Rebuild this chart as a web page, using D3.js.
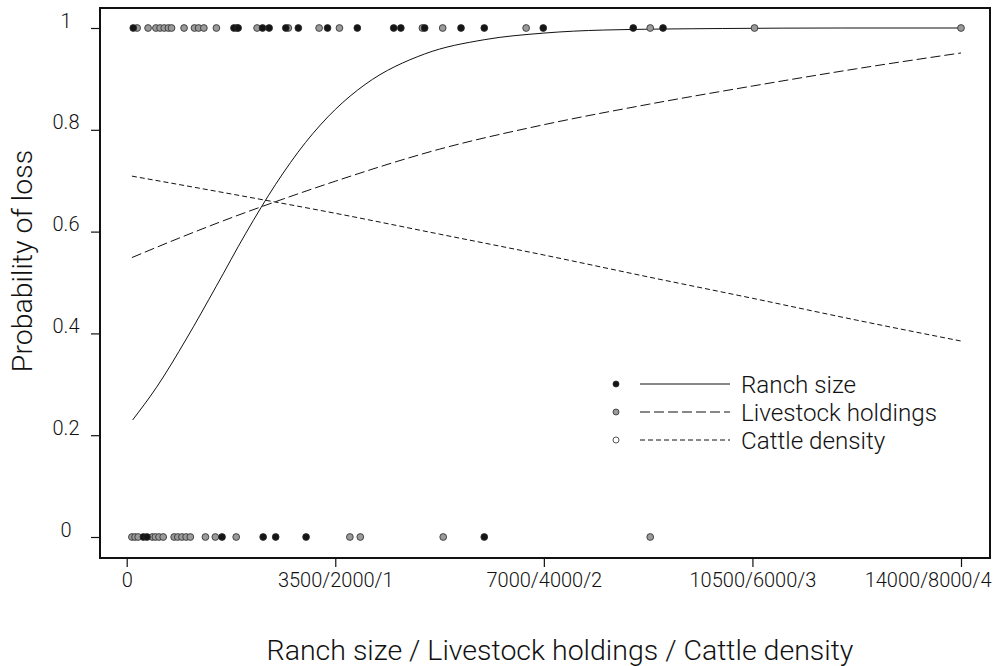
<!DOCTYPE html>
<html>
<head>
<meta charset="utf-8">
<script src="https://cdn.jsdelivr.net/npm/d3@7"></script>
<style>
  html, body { margin: 0; padding: 0; background: #fff; }
  svg { display: block; }
  text { font-family: "Roboto", "Liberation Sans", sans-serif; font-weight: 300; fill: #111; }
</style>
</head>
<body>
<svg id="chart" width="996" height="666"></svg>
<script>
// Observed outcomes (1 = loss, 0 = no loss), in each predictor's own units
const ranchLoss     = [110, 1800, 1870, 2280, 2390, 2670, 2880, 3370, 3870, 4480, 4600, 5000, 5610, 6000, 6990, 8500, 9000];
const ranchNoLoss   = [280, 340, 1600, 2290, 2500, 3010, 6000];
const livestockLoss = [100, 205, 280, 320, 360, 400, 430, 550, 650, 690, 740, 860, 1055, 1250, 1550, 1845, 2040, 2835, 3030, 3830, 5020, 6020, 8000];
const livestockNoLoss = [50, 80, 110, 245, 275, 310, 350, 455, 490, 530, 570, 610, 755, 850, 1050, 2140, 2240, 3035, 5020];

// Fitted probability curves, sampled along each predictor
const ranchX     = [100, 500, 1000, 1500, 2000, 2500, 3000, 3500, 4000, 5000, 6000, 7000, 8000, 10000, 12000, 14000];
const ranchP     = [0.230, 0.294, 0.389, 0.492, 0.597, 0.693, 0.775, 0.840, 0.889, 0.949, 0.977, 0.990, 0.996, 0.999, 1.000, 1.000];
const livestockX = [50, 500, 1000, 1500, 2000, 3000, 4000, 5000, 6000, 7000, 8000];
const livestockP = [0.549, 0.587, 0.627, 0.664, 0.699, 0.762, 0.810, 0.850, 0.886, 0.920, 0.951];
const cattleX    = [0.025, 0.5, 1, 1.5, 2, 2.5, 3, 3.5, 4];
const cattleP    = [0.709, 0.674, 0.636, 0.595, 0.554, 0.511, 0.469, 0.426, 0.385];

// Axis ticks
const xTickValues = [0, 3500, 7000, 10500, 14000];
const xTickLabels = ["0", "3500/2000/1", "7000/4000/2", "10500/6000/3", "14000/8000/4"];
const yTickValues = [0, 0.2, 0.4, 0.6, 0.8, 1];
const yTickLabels = ["0", "0.2", "0.4", "0.6", "0.8", "1"];

const legendNames = ["Ranch size", "Livestock holdings", "Cattle density"];

const svg = d3.select("#chart");
const W = 996;
const frame = { left: 100, right: 990, top: 8, bottom: 558 };
const xLeft = 126.7, xRight = 961;

// One shared horizontal extent, three predictor scales
const xRanch = d3.scaleLinear().domain([0, 14000]).range([xLeft, xRight]);
const xLive  = d3.scaleLinear().domain([0, 8000]).range([xLeft, xRight]);
const xCattle = d3.scaleLinear().domain([0, 4]).range([xLeft, xRight]);
const y = d3.scaleLinear().domain([0, 1]).range([537, 28]);

const tickFont = 20;

// Axes
const xAxis = d3.axisBottom(xRanch)
  .tickValues(xTickValues)
  .tickFormat((d, i) => xTickLabels[i])
  .tickSize(9).tickPadding(6).tickSizeOuter(0);
const gx = svg.append("g").attr("transform", `translate(0,${frame.bottom})`).call(xAxis);
gx.select(".domain").remove();
gx.selectAll(".tick line").attr("stroke", "#111").attr("stroke-width", 1.2);
gx.selectAll(".tick text")
  .attr("font-size", tickFont).attr("dy", "0.72em")
  .style("font-family", "Roboto, 'Liberation Sans', sans-serif")
  .style("font-weight", 300).style("fill", "#111");
// keep the last label inside the page
gx.selectAll(".tick text").each(function (d) {
  const t = d3.select(this);
  const w = this.getComputedTextLength();
  const cx = xRanch(d);
  if (cx + w / 2 > W - 4) t.attr("text-anchor", "end").attr("x", (W - 5) - cx);
});

const yAxis = d3.axisLeft(y)
  .tickValues(yTickValues)
  .tickFormat((d, i) => yTickLabels[i])
  .tickSize(9).tickSizeOuter(0);
const gy = svg.append("g").attr("transform", `translate(${frame.left},0)`).call(yAxis);
gy.select(".domain").remove();
gy.selectAll(".tick line").attr("stroke", "#111").attr("stroke-width", 1.2);
gy.selectAll(".tick text")
  .attr("text-anchor", "middle").attr("x", -34).attr("dy", "-0.05em")
  .attr("font-size", tickFont)
  .style("font-family", "Roboto, 'Liberation Sans', sans-serif")
  .style("font-weight", 300).style("fill", "#111");

// Plot frame
svg.append("rect")
  .attr("x", frame.left).attr("y", frame.top)
  .attr("width", frame.right - frame.left).attr("height", frame.bottom - frame.top)
  .attr("fill", "none").attr("stroke", "#111").attr("stroke-width", 2);

// Curves
const curveLine = (xs, ps, sx) => d3.line()
  .x((d, i) => sx(xs[i])).y(d => y(d))
  .curve(d3.curveMonotoneX)(ps);

svg.append("path").attr("d", curveLine(ranchX, ranchP, xRanch))
  .attr("fill", "none").attr("stroke", "#111").attr("stroke-width", 1);
svg.append("path").attr("d", curveLine(livestockX, livestockP, xLive))
  .attr("fill", "none").attr("stroke", "#111").attr("stroke-width", 1).attr("stroke-dasharray", "10,4");
svg.append("path").attr("d", curveLine(cattleX, cattleP, xCattle))
  .attr("fill", "none").attr("stroke", "#111").attr("stroke-width", 1).attr("stroke-dasharray", "5,3");

// Observations
const pts = [];
livestockLoss.forEach(v => pts.push({ x: xLive(v), y: y(1), fill: "#9a9a9a" }));
livestockNoLoss.forEach(v => pts.push({ x: xLive(v), y: y(0), fill: "#9a9a9a" }));
ranchLoss.forEach(v => pts.push({ x: xRanch(v), y: y(1), fill: "#151515" }));
ranchNoLoss.forEach(v => pts.push({ x: xRanch(v), y: y(0), fill: "#151515" }));
svg.append("g").selectAll("circle").data(pts).join("circle")
  .attr("cx", d => d.x).attr("cy", d => d.y).attr("r", 3.4)
  .attr("fill", d => d.fill).attr("stroke", "#2a2a2a").attr("stroke-width", 0.8);

// Legend
const legendFills = ["#151515", "#9a9a9a", "#ffffff"];
const legendDash = [null, "10,4", "5,3"];
const lg = svg.append("g");
legendNames.forEach((name, i) => {
  const cy = 384 + i * 28;
  lg.append("circle").attr("cx", 616).attr("cy", cy).attr("r", 3)
    .attr("fill", legendFills[i]).attr("stroke", "#2a2a2a").attr("stroke-width", 0.8);
  lg.append("line").attr("x1", 640).attr("x2", 730).attr("y1", cy).attr("y2", cy)
    .attr("stroke", "#111").attr("stroke-width", 1)
    .attr("stroke-dasharray", legendDash[i]);
  lg.append("text").attr("x", 741).attr("y", cy + 9).attr("font-size", 24.2).text(name);
});

// Axis titles
svg.append("text")
  .attr("transform", "translate(32,261) rotate(-90)")
  .attr("text-anchor", "middle").attr("font-size", 28.5).text("Probability of loss");
svg.append("text")
  .attr("x", 560).attr("y", 660)
  .attr("text-anchor", "middle").attr("font-size", 28.5)
  .text("Ranch size / Livestock holdings / Cattle density");
</script>
</body>
</html>
